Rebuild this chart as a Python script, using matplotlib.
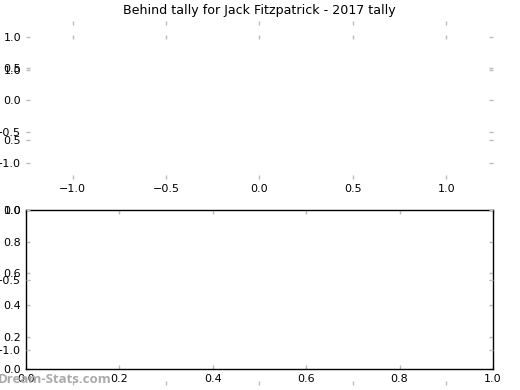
import matplotlib
matplotlib.use('Agg')
import matplotlib.pyplot as plt

title = 'Behind tally for Jack Fitzpatrick - 2017 tally'
watermark = 'Dream-Stats.com'

# empty pie axes: ticks and limits
pie_ticks = [-1.0, -0.5, 0.0, 0.5, 1.0]
pie_lim = [-1.25, 1.25]

# empty lower axes
grid_ticks = [0.0, 0.2, 0.4, 0.6, 0.8, 1.0]
grid_lim = [0.0, 1.0]

plt.rcParams['font.size'] = 8

fig = plt.figure(figsize=(5.2, 3.9), dpi=100)


def style_ticks(ax, ticks, lim, spines):
    ax.set_xlim(lim)
    ax.set_ylim(lim)
    ax.set_xticks(ticks)
    ax.set_yticks(ticks)
    ax.tick_params(direction='in', length=3, width=1, color='#bbbbbb',
                   labelcolor='black', labelsize=8,
                   top=True, right=True, bottom=True, left=True)
    ax.set_facecolor('none')
    for s in ax.spines.values():
        s.set_visible(spines)
        s.set_color('black')
        s.set_linewidth(1)


ax1 = fig.add_axes([0.05, 0.541, 0.898, 0.405])
style_ticks(ax1, pie_ticks, pie_lim, False)
ax1.set_title(title, fontsize=9.1, pad=5)

ax3 = fig.add_axes([0.05, 0.054, 0.898, 0.408])
style_ticks(ax3, grid_ticks, grid_lim, True)

ax2 = fig.add_axes([0.05, 0.0128, 0.898, 0.897])
style_ticks(ax2, pie_ticks, pie_lim, False)

fig.text(-0.004, 0.01, watermark, color='#aaaaaa', fontsize=9.5,
         family=['Open Sans', 'DejaVu Sans'], fontweight='bold',
         ha='left', va='bottom')

fig.savefig('out.png', dpi=100)
